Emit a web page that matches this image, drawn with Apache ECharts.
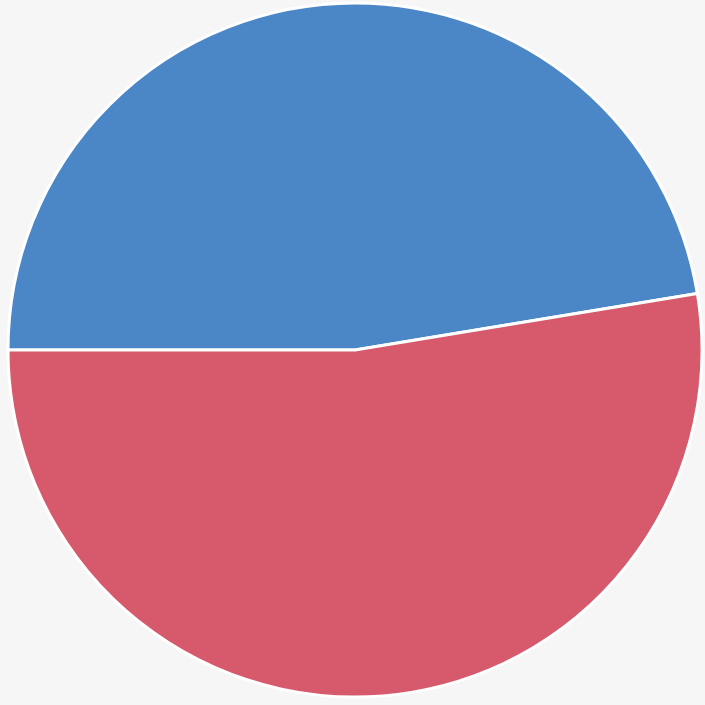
<!DOCTYPE html>
<html>
<head>
<meta charset="utf-8">
<script src="https://cdn.jsdelivr.net/npm/echarts@6/dist/echarts.min.js"></script>
<style>html,body{margin:0;padding:0;background:#f6f6f6;}#c{width:705px;height:705px;}</style>
</head>
<body>
<div id="c"></div>
<script>
const categories = ['A', 'B'];
const values = [47.4, 52.6];
const colors = ['#4b87c7', '#d65a6b'];

const chart = echarts.init(document.getElementById('c'));
chart.setOption({
  backgroundColor: '#f6f6f6',
  animation: false,
  series: [{
    type: 'pie',
    center: [355, 350],
    radius: [0, 347],
    startAngle: 180,
    clockwise: true,
    label: { show: false },
    labelLine: { show: false },
    emphasis: { disabled: true },
    itemStyle: { borderColor: '#ffffff', borderWidth: 3 },
    data: categories.map((c, i) => ({ name: c, value: values[i], itemStyle: { color: colors[i] } }))
  }]
});
</script>
</body>
</html>
